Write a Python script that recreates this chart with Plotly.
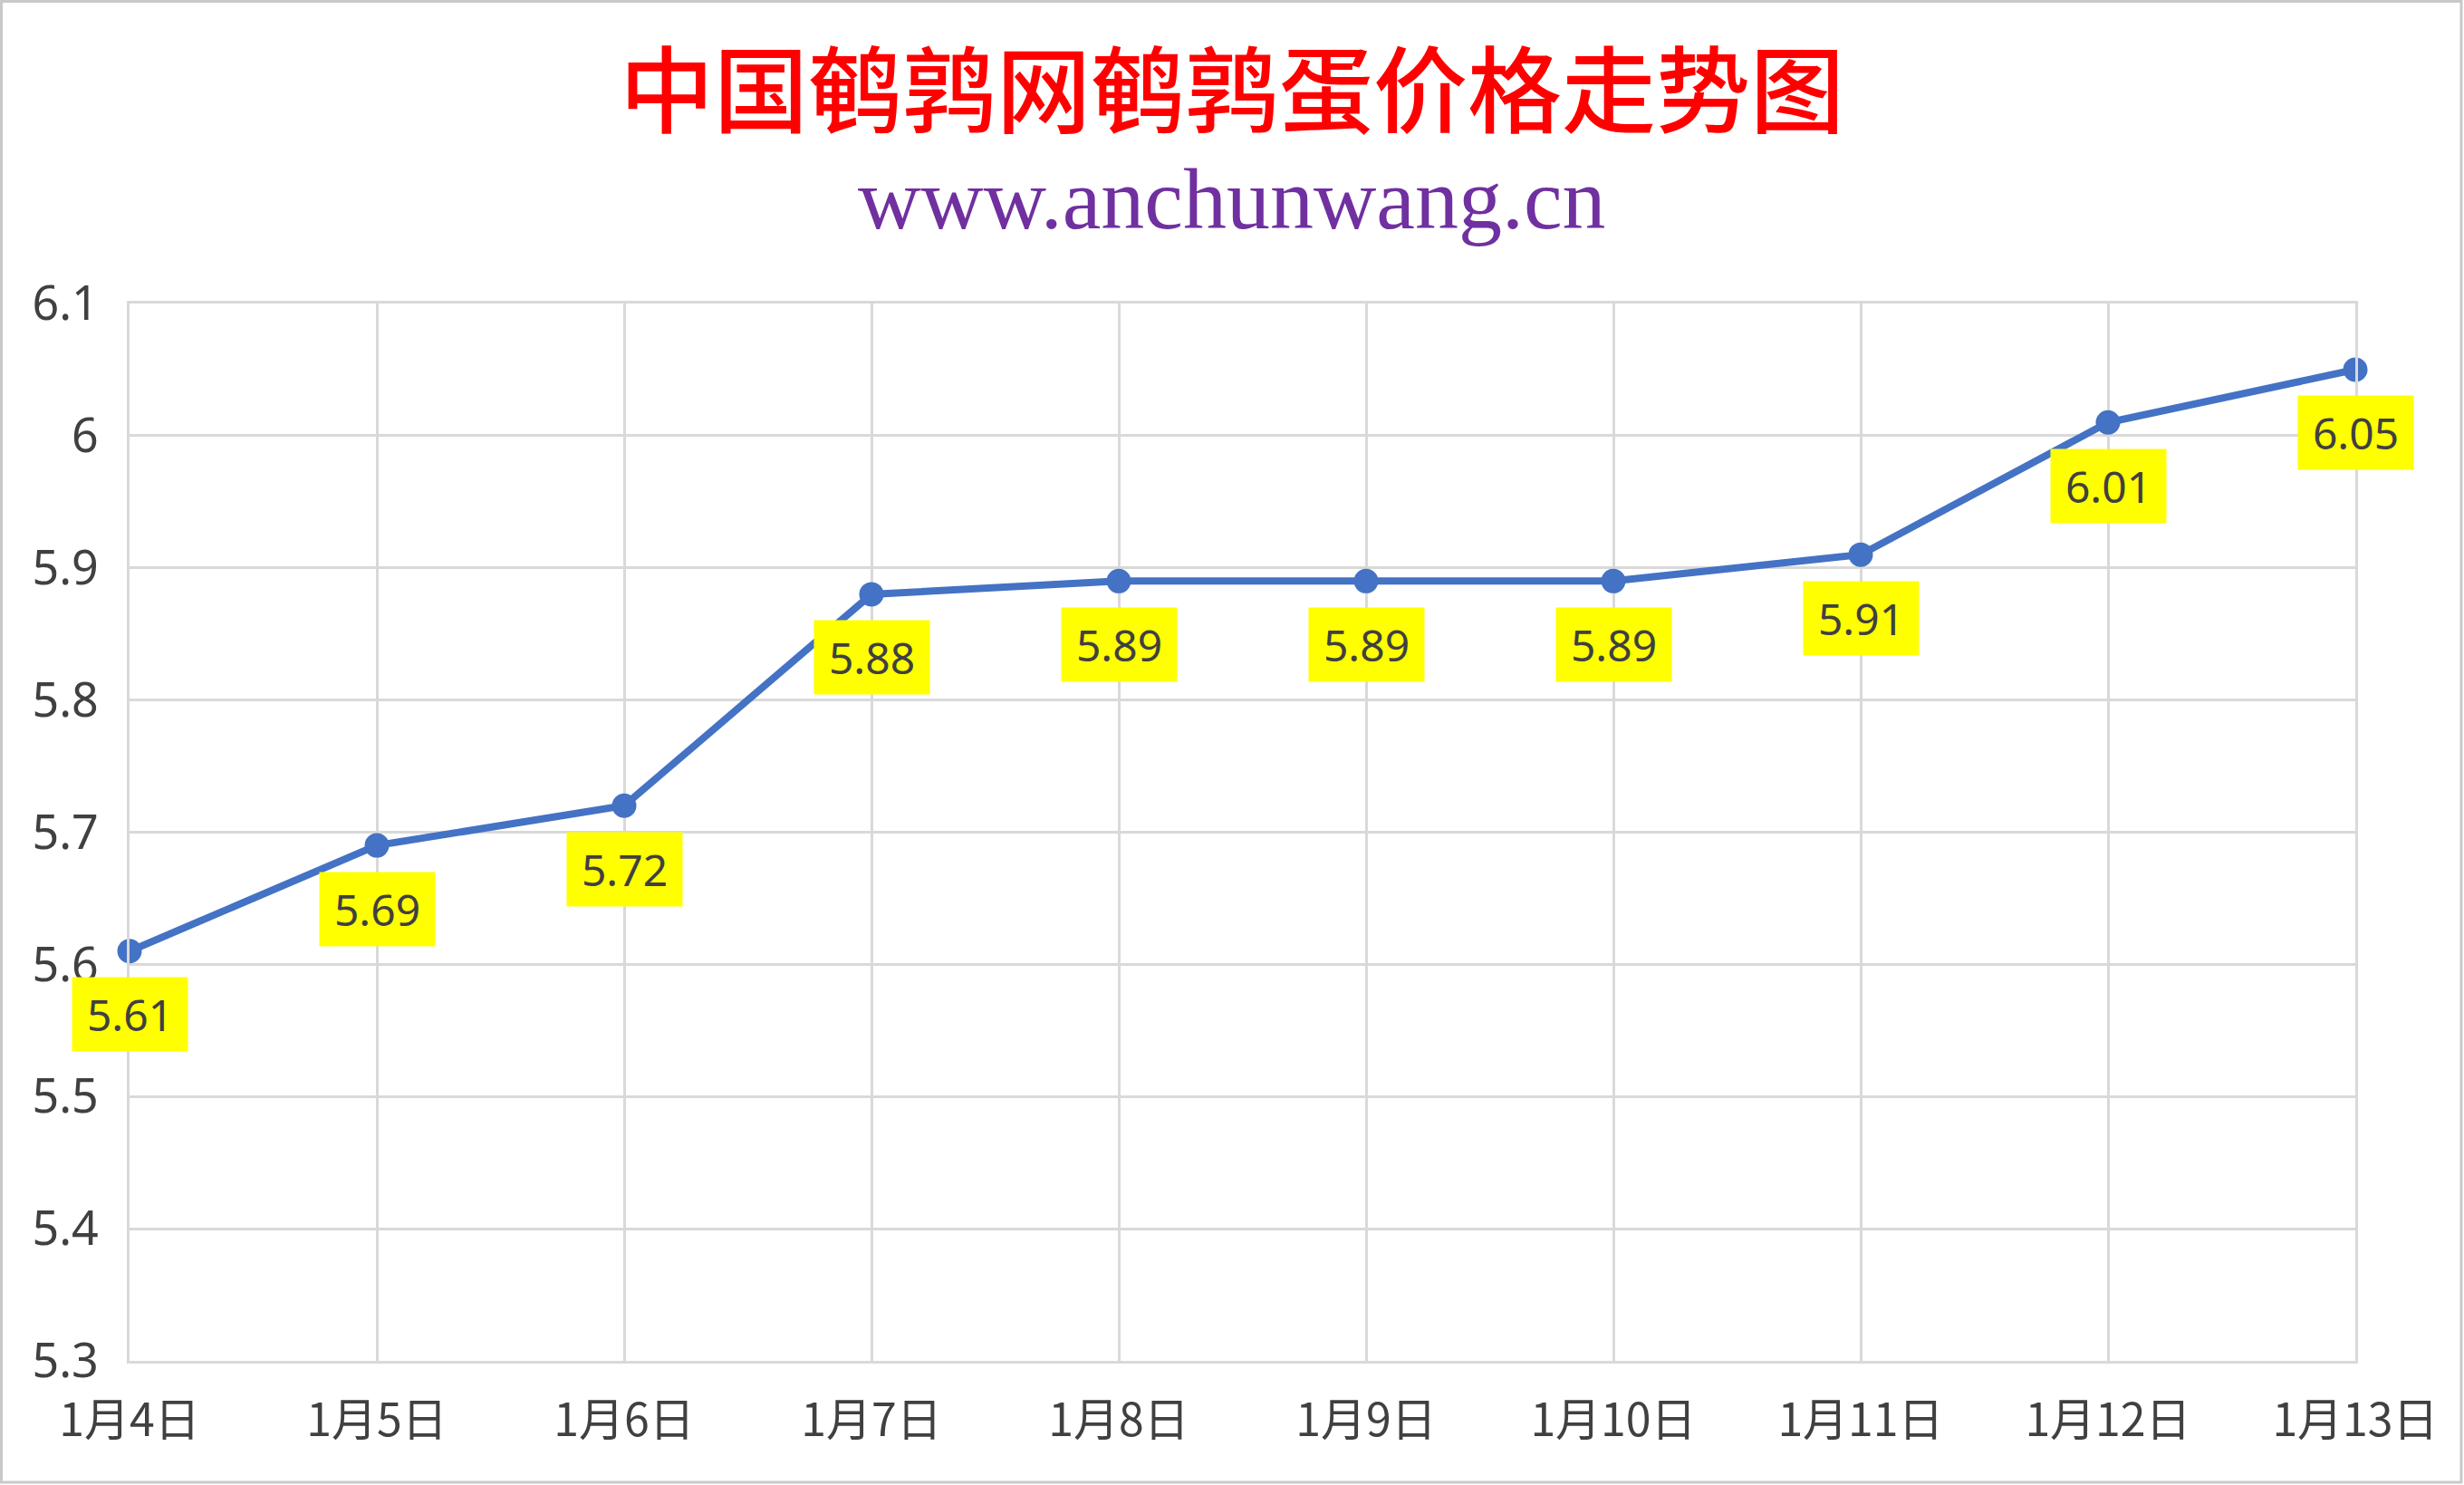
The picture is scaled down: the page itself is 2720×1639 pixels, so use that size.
import plotly.graph_objects as go

categories = ["1月4日", "1月5日", "1月6日", "1月7日", "1月8日",
              "1月9日", "1月10日", "1月11日", "1月12日", "1月13日"]
prices = [5.61, 5.69, 5.72, 5.88, 5.89, 5.89, 5.89, 5.91, 6.01, 6.05]
y_tickvals = [5.3, 5.4, 5.5, 5.6, 5.7, 5.8, 5.9, 6.0, 6.1]
y_ticktext = ["5.3", "5.4", "5.5", "5.6", "5.7", "5.8", "5.9", "6", "6.1"]
title_text = "中国鹌鹑网鹌鹑蛋价格走势图"
subtitle_text = "www.anchunwang.cn"

W, H = 2720, 1639
L, R, T, B = 143, 120, 335, 137
PW, PH = W - L - R, H - T - B

fig = go.Figure()
fig.add_trace(go.Scatter(
    x=categories, y=prices, mode="lines+markers",
    line=dict(color="#4472C4", width=8),
    marker=dict(color="#4472C4", size=27),
    cliponaxis=False, hoverinfo="skip", showlegend=False,
))

for c, v in zip(categories, prices):
    fig.add_annotation(
        x=c, y=v, xref="x", yref="y", text=f"{v:.2f}", showarrow=False,
        yshift=-70, bgcolor="#FFFF00", width=125, height=79,
        font=dict(family="Noto Sans", size=48, color="#404040"),
        xanchor="center", yanchor="middle", valign="middle",
    )

fig.add_annotation(
    text=title_text, xref="paper", yref="paper",
    x=(W / 2 - L) / PW, y=(H - B - 94) / PH, showarrow=False,
    xanchor="center", yanchor="middle",
    font=dict(family="Noto Sans CJK SC", size=104, color="#FF0000", weight=500),
)
fig.add_annotation(
    text=subtitle_text, xref="paper", yref="paper",
    x=(W / 2 - L) / PW, y=(H - B - 219) / PH, showarrow=False,
    xanchor="center", yanchor="middle",
    font=dict(family="Liberation Serif", size=96, color="#7030A0"),
)

# outer chart border
fig.add_shape(
    type="rect", xref="paper", yref="paper",
    x0=(1.5 - L) / PW, x1=(W - 3 - L) / PW,
    y0=(H - B - (H - 3)) / PH, y1=(H - B - 1.5) / PH,
    line=dict(color="#C9C9C9", width=3), fillcolor="rgba(0,0,0,0)", layer="below",
)

fig.update_xaxes(
    type="category", range=[0, len(categories) - 1],
    showgrid=True, gridcolor="#D9D9D9", gridwidth=2.5,
    showline=True, linecolor="#D9D9D9", linewidth=2.5, mirror=True,
    ticks="", ticklabelstandoff=20, zeroline=False,
    tickfont=dict(family="Noto Sans CJK SC", size=50, color="#404040"),
)
fig.update_yaxes(
    range=[5.3, 6.1], tickvals=y_tickvals, ticktext=y_ticktext,
    showgrid=True, gridcolor="#D9D9D9", gridwidth=2.5,
    showline=True, linecolor="#D9D9D9", linewidth=2.5, mirror=True,
    ticks="", ticklabelstandoff=21, zeroline=False,
    tickfont=dict(family="Noto Sans", size=52, color="#404040"),
)

fig.update_layout(
    width=W, height=H, autosize=False,
    margin=dict(l=L, r=R, t=T, b=B, pad=0),
    paper_bgcolor="white", plot_bgcolor="white",
    showlegend=False,
)

fig.write_html("out.html", config={"displayModeBar": False},
               post_script="document.body.style.margin='0';")
